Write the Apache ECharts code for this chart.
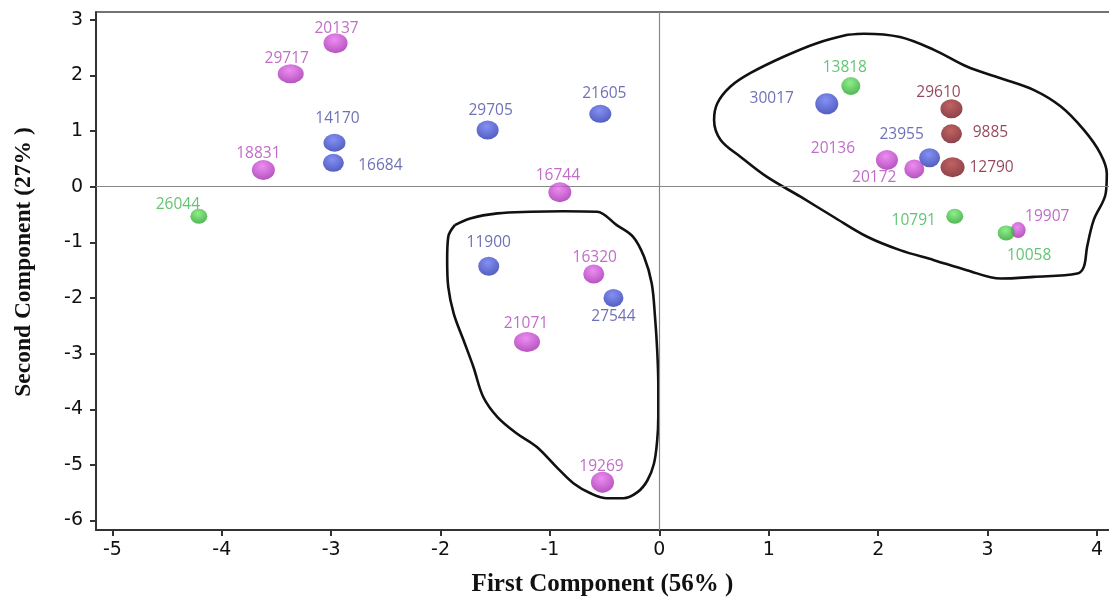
<!DOCTYPE html>
<html lang="en">
<head>
    <meta charset="UTF-8">
    <title>PCA scatter</title>
    <script src="https://cdn.jsdelivr.net/npm/echarts@6/dist/echarts.min.js"></script>
</head>
<body style="margin:0">
<div id="chart" style="width: 1109px;height:597px"></div>
<script>
    // sample ids and scores on the first two components
    var ids = ['20137', '29717', '14170', '16684', '18831', '26044', '29705', '21605', '16744',
        '11900', '16320', '27544', '21071', '19269', '30017', '13818', '29610', '9885', '12790',
        '23955', '20136', '20172', '10791', '10058', '19907'];
    var pc1 = [-2.96, -3.37, -2.97, -2.98, -3.62, -4.21, -1.57, -0.54, -0.91,
        -1.56, -0.60, -0.42, -1.21, -0.52, 1.53, 1.75, 2.67, 2.67, 2.68,
        2.47, 2.08, 2.33, 2.70, 3.17, 3.28];
    var pc2 = [2.58, 2.03, 0.79, 0.43, 0.30, -0.53, 1.02, 1.31, -0.10,
        -1.43, -1.57, -2.00, -2.79, -5.31, 1.49, 1.81, 1.40, 0.95, 0.35,
        0.52, 0.48, 0.32, -0.53, -0.83, -0.78];
    var groups = ['m', 'm', 'b', 'b', 'm', 'g', 'b', 'b', 'm',
        'b', 'm', 'b', 'm', 'm', 'b', 'g', 'r', 'r', 'r',
        'b', 'm', 'm', 'g', 'g', 'm'];
    var xTicks = [-5, -4, -3, -2, -1, 0, 1, 2, 3, 4];
    var yTicks = [-6, -5, -4, -3, -2, -1, 0, 1, 2, 3];

    // hand drawn cluster outlines
    var loopRight = [[1.72, 2.73], [1.87, 2.75], [2.20, 2.69], [2.51, 2.46], [2.81, 2.16], [3.12, 1.95],
        [3.42, 1.74], [3.67, 1.44], [3.88, 1.02], [4.03, 0.60], [4.09, 0.24], [4.08, -0.12],
        [3.97, -0.60], [3.91, -1.08], [3.88, -1.44], [3.82, -1.56], [3.42, -1.62], [3.12, -1.65],
        [2.81, -1.50], [2.51, -1.32], [2.20, -1.14], [1.90, -0.90], [1.59, -0.54], [1.29, -0.18],
        [0.98, 0.18], [0.74, 0.54], [0.56, 0.84], [0.50, 1.20], [0.53, 1.50], [0.65, 1.80],
        [0.83, 2.04], [1.14, 2.34], [1.44, 2.58], [1.72, 2.73]];
    var loopLeft = [[-1.87, -0.69], [-1.73, -0.57], [-1.48, -0.48], [-1.18, -0.45], [-0.88, -0.44],
        [-0.57, -0.45], [-0.39, -0.69], [-0.24, -0.90], [-0.14, -1.26], [-0.07, -1.74],
        [-0.04, -2.34], [-0.02, -2.94], [-0.01, -3.54], [-0.01, -4.14], [-0.02, -4.56],
        [-0.05, -4.98], [-0.11, -5.28], [-0.20, -5.49], [-0.33, -5.60], [-0.48, -5.60],
        [-0.63, -5.51], [-0.78, -5.34], [-0.94, -5.04], [-1.12, -4.68], [-1.30, -4.44],
        [-1.48, -4.14], [-1.61, -3.78], [-1.70, -3.24], [-1.79, -2.76], [-1.88, -2.28],
        [-1.93, -1.80], [-1.94, -1.32], [-1.93, -0.90], [-1.87, -0.69]];

    // marker size [w, h] and label offset [dx, dy] per sample
    var look = {
        '20137': [24, 20, 1, -15], '29717': [26, 19, -4, -15], '14170': [22, 18, 3, -24],
        '16684': [21, 18, 47, 3], '18831': [23, 20, -5, -16], '26044': [17, 15, -21, -12],
        '29705': [22, 19, 3, -19], '21605': [22, 18, 4, -20], '16744': [23, 20, -2, -17],
        '11900': [21, 19, 0, -24], '16320': [21, 19, 1, -16], '27544': [20, 18, 0, 19],
        '21071': [26, 20, -1, -18], '19269': [23, 21, -1, -16], '30017': [23, 21, -55, -5],
        '13818': [19, 18, -6, -18], '29610': [22, 19, -13, -16], '9885': [21, 19, 39, -1],
        '12790': [24, 20, 39, 0], '23955': [21, 19, -28, -23], '20136': [22, 20, -54, -11],
        '20172': [20, 19, -40, 9], '10791': [17, 15, -41, 4], '10058': [17, 15, 23, 23],
        '19907': [15, 16, 29, -14]
    };
    var palette = {
        b: {light: '#6674f2', dark: '#2230a8', text: '#4a4ea3'},
        m: {light: '#e870ee', dark: '#9c22aa', text: '#b048ba'},
        r: {light: '#b23a3a', dark: '#68101a', text: '#7a1630'},
        g: {light: '#72ea6c', dark: '#1f9e25', text: '#3bb54f'}
    };

    function ball(c) {
        return {
            type: 'radial', x: 0.45, y: 0.32, r: 0.75,
            colorStops: [{offset: 0, color: c.light}, {offset: 1, color: c.dark}]
        };
    }

    function groupSeries(g) {
        var c = palette[g];
        var data = [];
        for (var i = 0; i < ids.length; i++) {
            if (groups[i] !== g) continue;
            var s = look[ids[i]];
            data.push({
                value: [pc1[i], pc2[i]],
                name: ids[i],
                symbolSize: [s[0], s[1]],
                label: {offset: [s[2], s[3]]}
            });
        }
        return {
            type: 'scatter',
            symbol: 'circle',
            z: 5,
            itemStyle: {color: ball(c)},
            label: {
                show: true,
                position: 'inside',
                formatter: '{b}',
                color: c.text,
                fontFamily: 'Open Sans',
                fontSize: 15.5
            },
            emphasis: {disabled: true},
            data: data
        };
    }

    function loopSeries(pts) {
        return {
            type: 'line',
            data: pts,
            smooth: 0.35,
            symbol: 'none',
            z: 3,
            lineStyle: {color: '#111', width: 2.6},
            silent: true
        };
    }

    var chart = echarts.init(document.getElementById('chart'));
    var tickFont = {fontFamily: 'DejaVu Sans', fontSize: 19, color: '#111'};
    var nameFont = {fontFamily: 'Liberation Serif', fontWeight: 'bold', fontSize: 25, color: '#111'};
    var option = {
        backgroundColor: '#fff',
        animation: false,
        grid: {left: 96, right: 0, top: 12, bottom: 67, outerBoundsMode: 'none'},
        xAxis: [{
            type: 'value',
            min: -5.15,
            max: 4.11,
            name: 'First Component (56% )',
            nameLocation: 'middle',
            nameGap: 42,
            nameTextStyle: nameFont,
            axisLine: {show: true, onZero: false, lineStyle: {color: '#333', width: 2}},
            axisTick: {show: true, length: 6, customValues: xTicks, lineStyle: {color: '#333', width: 2}},
            axisLabel: Object.assign({customValues: xTicks, margin: 11}, tickFont),
            splitLine: {show: false}
        }, {
            type: 'value',
            position: 'top',
            min: -5.15,
            max: 4.11,
            axisLine: {show: true, onZero: false, lineStyle: {color: '#444', width: 1.5}},
            axisTick: {show: false},
            axisLabel: {show: false},
            splitLine: {show: false}
        }],
        yAxis: {
            type: 'value',
            min: -6.17,
            max: 3.14,
            name: 'Second Component (27% )',
            nameLocation: 'middle',
            nameGap: 60,
            nameTextStyle: Object.assign({}, nameFont, {fontSize: 23.5, padding: [0, 0, 0, 18]}),
            axisLine: {show: true, onZero: false, lineStyle: {color: '#333', width: 2}},
            axisTick: {show: true, length: 6, customValues: yTicks, lineStyle: {color: '#333', width: 2}},
            axisLabel: Object.assign({customValues: yTicks, margin: 13}, tickFont),
            splitLine: {show: false}
        },
        series: [
            {
                type: 'scatter',
                data: [],
                markLine: {
                    silent: true,
                    symbol: 'none',
                    label: {show: false},
                    lineStyle: {color: '#888', width: 1.2, type: 'solid'},
                    data: [{xAxis: 0}, {yAxis: 0}]
                }
            },
            loopSeries(loopRight),
            loopSeries(loopLeft),
            groupSeries('b'),
            groupSeries('r'),
            groupSeries('m'),
            groupSeries('g')
        ]
    };
    chart.setOption(option);
</script>
</body>
</html>
